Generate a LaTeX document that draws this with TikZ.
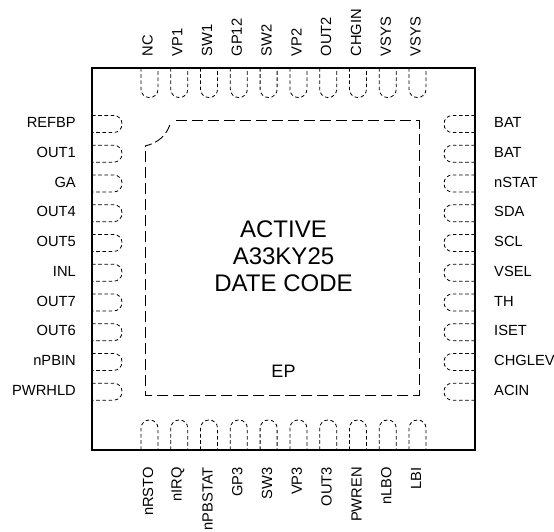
\documentclass[tikz,border=0pt]{standalone}
\usepackage{fontspec}
\setmainfont{Liberation Sans}
\usetikzlibrary{positioning}
\tikzset{
  pin/.style = {line width = 0.8pt, dash pattern = on 3.6pt off 2.6pt, rounded corners = 8.2pt},
  pad/.style = {line width = 0.9pt, dash pattern = on 11pt off 5pt, dash phase = 11pt},
  pinlabel/.style = {inner sep = 0pt, font = \fontsize{14.7}{16}\selectfont},
}
\begin{document}
\begin{tikzpicture}[x = 1pt, y = -1pt]
\useasboundingbox (0,0) rectangle (554,531);
\coordinate (nw) at (92,68);
\coordinate (se) at (475,450);
\draw[line width = 1.7pt] (nw) rectangle (se);
% exposed pad
\draw[pad] (171,120.6) -- (419,120.6) -- (419,395) -- (145,395) -- (145,146);
\draw[line width = 0.9pt, dash pattern = on 7pt off 4pt on 10pt off 4pt on 9pt off 9pt] (145,146) .. controls (158,143) and (168,135) .. (171,120.6);
\node[inner sep = 0pt, align = center, font = \fontsize{24}{27}\selectfont] (marking) at (283.5,256) {ACTIVE\\A33KY25\\DATE CODE};
\node[inner sep = 0pt, font = \fontsize{18}{20}\selectfont] (ep) at (283.5,371) {EP};
% top row
\foreach \name [count = \i from 0, evaluate = \i as \x using 149.5+29.78*\i] in {NC,VP1,SW1,GP12,SW2,VP2,OUT2,CHGIN,VSYS,VSYS} {
  \draw[pin] (\x-8.5,68) -- (\x-8.5,97.5) -- (\x+8.5,97.5) -- (\x+8.5,68);
  \node[pinlabel, rotate = 90, anchor = west] (top\i) at (\x-2,56.5) {\name};
}
% bottom row
\foreach \name [count = \i from 0, evaluate = \i as \x using 149.5+29.78*\i] in {nRSTO,nIRQ,nPBSTAT,GP3,SW3,VP3,OUT3,PWREN,nLBO,LBI} {
  \draw[pin] (\x-8.5,450) -- (\x-8.5,420) -- (\x+8.5,420) -- (\x+8.5,450);
  \node[pinlabel, rotate = 90, anchor = east] (bot\i) at (\x-1.5,467) {\name};
}
% left side
\foreach \name [count = \i from 0, evaluate = \i as \y using 124+29.74*\i] in {REFBP,OUT1,GA,OUT4,OUT5,INL,OUT7,OUT6,nPBIN,PWRHLD} {
  \draw[pin] (92,\y-8.5) -- (122,\y-8.5) -- (122,\y+8.5) -- (92,\y+8.5);
  \node[pinlabel, anchor = east] (left\i) at (76,\y-1.5) {\name};
}
% right side
\foreach \name [count = \i from 0, evaluate = \i as \y using 124+29.74*\i] in {BAT,BAT,nSTAT,SDA,SCL,VSEL,TH,ISET,CHGLEV,ACIN} {
  \draw[pin] (475,\y-8.5) -- (444,\y-8.5) -- (444,\y+8.5) -- (475,\y+8.5);
  \node[pinlabel, anchor = west] (right\i) at (494,\y-1.5) {\name};
}
\end{tikzpicture}
\end{document}
